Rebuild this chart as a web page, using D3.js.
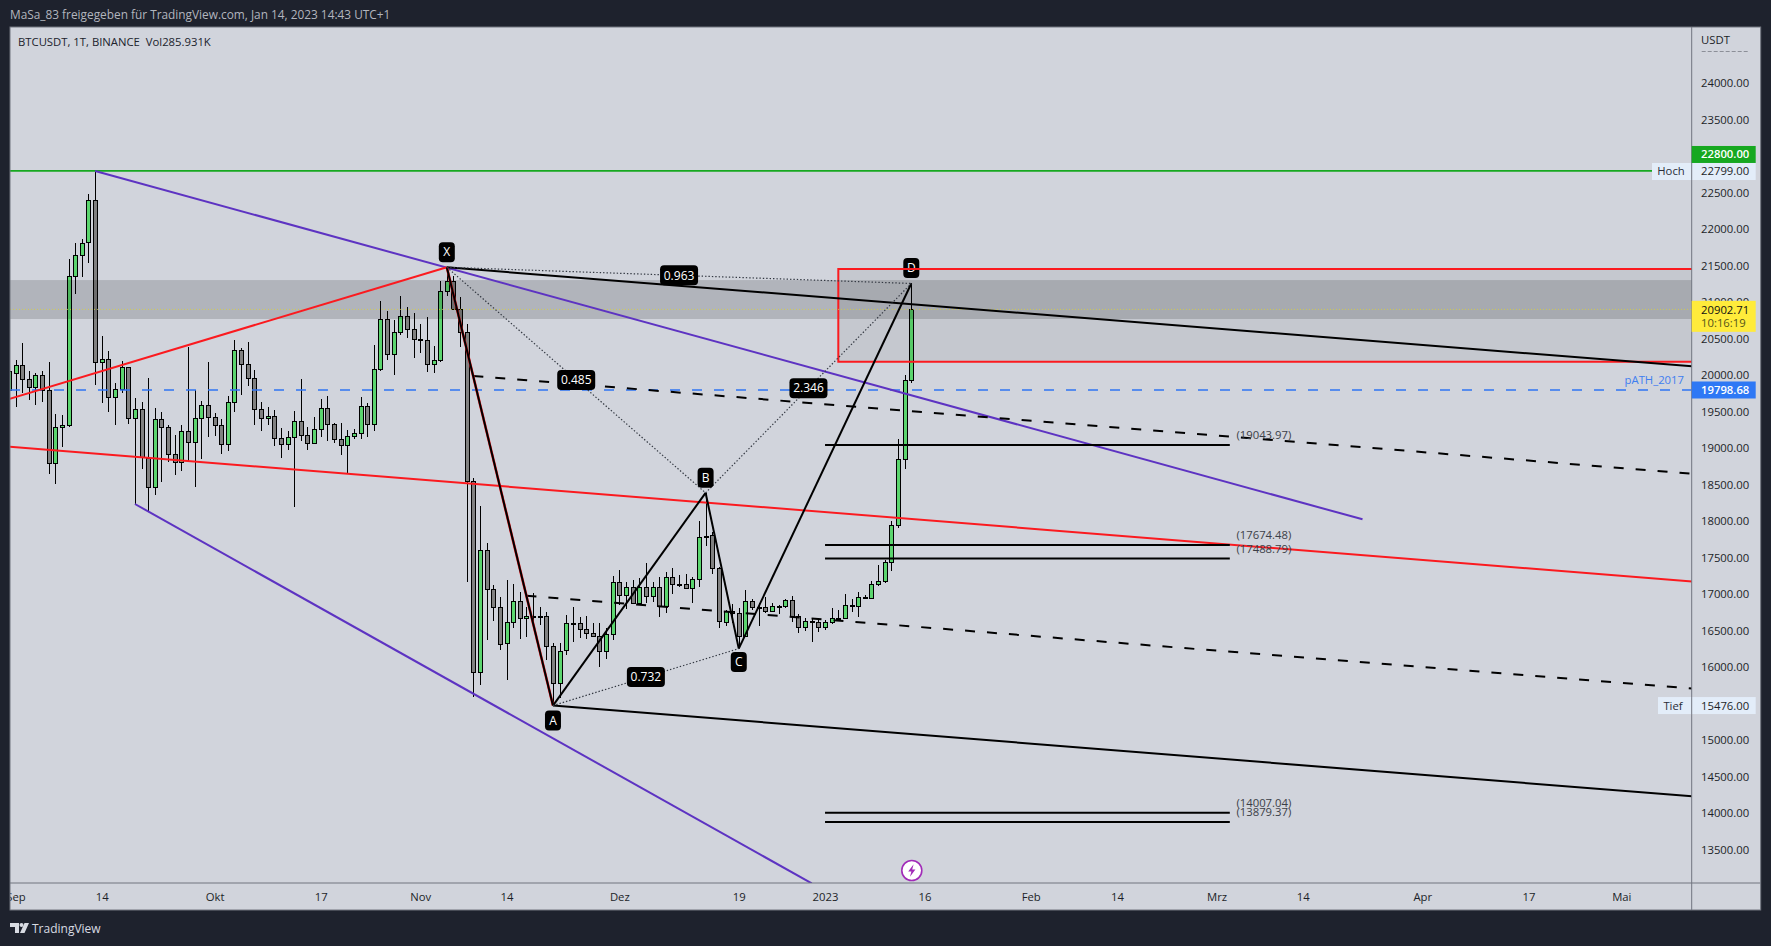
<!DOCTYPE html>
<html><head><meta charset="utf-8">
<script src="https://cdn.jsdelivr.net/npm/d3@7"></script>
<style>html,body{margin:0;padding:0;background:#1e222d;overflow:hidden}svg{display:block}
text{font-family:"Open Sans","Noto Sans",sans-serif}</style></head><body>
<svg id="c" width="1771" height="946"></svg>
<script>
// daily candles, 31 Aug 2022 .. 14 Jan 2023
const firstCandle = "2022-08-31";
const opens = [19798,20036,20136,19945,19835,19999,19794,18794,19287,19314,
21355,21643,21821,22397,20177,20219,19698,19808,20109,19410,
19534,18862,18465,19397,19287,18917,18808,19232,19082,19410,
19588,19424,19314,19054,19630,20342,20150,19958,19534,19410,
19438,19136,19054,19150,19369,19177,19068,19260,19547,19328,
19123,19040,19164,19205,19575,19328,20081,20766,20287,20588,
20807,20629,20492,20479,20150,20205,21150,21296,20903,20588,
18547,15931,17602,17068,16821,16337,16616,16903,16671,16698,
16698,16698,16287,15780,16232,16602,16602,16520,16465,16434,
16219,16452,17164,16986,17096,16886,17105,16977,17096,16840,
17233,17137,17137,17082,17205,17781,17808,17356,16626,16772,
16740,16434,16904,16822,16822,16776,16845,16836,16918,16703,
16548,16630,16616,16548,16616,16680,16680,16849,16836,16959,
16945,17137,17178,17438,17944,18849,19931];
const highs = [20118,20209,20442,20059,20027,20059,20182,19465,19456,21593,
21812,21867,22483,22799,20538,20333,19894,20196,20115,19689,
19634,19958,19552,19497,19314,19182,19319,20387,19798,19643,
20182,19479,19397,19712,20479,20369,20456,20072,19634,19566,
19520,19273,19237,19511,19949,19296,19424,19675,19716,19351,
19351,19250,19264,19698,19616,20415,21017,20880,20757,21086,
20931,20848,20702,20794,20401,21296,21480,21360,21068,20698,
18588,18209,17698,17127,16958,17196,17141,17036,16830,17013,
16821,16753,16328,16328,16716,16821,16693,16702,16602,16603,
16543,17251,17333,17173,17196,17219,17425,17164,17242,17306,
17356,17265,17274,17242,18004,18390,17858,17379,16785,16867,
16808,17059,16931,16877,16968,16877,16854,16931,16977,16731,
16671,16662,16671,16648,16808,16785,17000,16931,17027,16991,
17178,17402,17470,18004,19123,20004,21258];
const lows = [19707,19570,19753,19661,19593,19639,18648,18515,19022,19296,
21113,21351,21543,19867,19625,19502,19319,19762,19333,18237,
18716,18132,18360,18543,18817,18634,18693,18817,18474,18853,
19159,19173,18922,18963,19502,19730,19853,19319,19241,19319,
19036,18872,18977,18200,19095,18976,19068,19159,19104,19068,
18908,18666,19123,19123,19159,19237,20063,20209,20004,20547,
20515,20241,20301,20049,20031,20186,21090,20894,20392,17173,
15598,15757,16374,16639,16237,15826,16534,16387,16410,16557,
16579,16100,15476,15575,16168,16351,16397,16387,16410,16009,
16114,16374,16854,16799,16867,16867,16886,16899,16694,16749,
17004,17096,17078,16886,17096,17662,17278,16543,16571,16603,
16260,16420,16785,16571,16740,16762,16731,16813,16616,16475,
16502,16352,16488,16511,16594,16630,16671,16758,16694,16931,
16931,17114,17160,17324,17903,18721,19899];
const closes = [20054,20136,19945,19835,19999,19798,18794,19287,19314,21355,
21643,21817,22397,20177,20219,19698,19808,20109,19410,19534,
18885,18465,19397,19287,18917,18808,19232,19082,19410,19588,
19424,19314,19054,19630,20342,20150,19958,19534,19410,19438,
19136,19054,19150,19369,19177,19068,19260,19547,19328,19123,
19040,19164,19205,19575,19328,20081,20766,20287,20588,20807,
20629,20492,20483,20150,20205,21150,21296,20903,20588,18547,
15931,17602,17068,16821,16323,16616,16903,16671,16698,16694,
16694,16287,15780,16228,16602,16597,16520,16465,16433,16219,
16452,17164,16986,17096,16886,17105,16977,17096,16840,17233,
17137,17128,17082,17214,17781,17804,17356,16630,16772,16749,
16434,16904,16822,16817,16776,16840,16840,16918,16703,16548,
16630,16626,16548,16616,16671,16676,16849,16845,16959,16950,
17137,17178,17438,17944,18849,19931,20903];

const priceTicks = [24000,23500,22500,22000,21500,21000,20500,20000,19500,19000,18500,18000,17500,17000,16500,16000,15000,14500,14000,13500];
const timeTickDates = ["2022-09-01","2022-09-14","2022-10-01","2022-10-17","2022-11-01","2022-11-14","2022-12-01","2022-12-19","2023-01-01","2023-01-16","2023-02-01","2023-02-14","2023-03-01","2023-03-14","2023-04-01","2023-04-17","2023-05-01"];
const timeTickLabels = ["Sep","14","Okt","17","Nov","14","Dez","19","2023","16","Feb","14","Mrz","14","Apr","17","Mai"];

// drawings: [date, price]
const X=["2022-11-05",21480],A=["2022-11-21",15476],B=["2022-12-14",18390],C=["2022-12-19",16256],D=["2023-01-14",21258];
const chartEnd = "2023-05-12";
const purpleUpper=[["2022-09-13",22799],["2023-03-23",18027]];
const purpleLower=[["2022-09-19",18237],["2022-12-30",13040]];
const redUpper=[["2022-08-31",19675],X];
const redLong=[["2022-08-31",19022],[chartEnd,17172]];
const blackTop=[X,[chartEnd,20120]];
const blackBottom=[A,[chartEnd,14230]];
const dashedUpper=[["2022-11-09",19990],[chartEnd,18650]];
const dashedLower=[["2022-11-17",16981],[chartEnd,15707]];
const zoneBand=[21305,20771];
const redBox=[["2023-01-03",21456],[chartEnd,20186]];
const levels=[19043.97,17674.48,17488.79,14007.04,13879.37];
const levelSpan=["2023-01-01","2023-03-03"];
const levelLabelDate="2023-03-04";
const pointNames=["X","A","B","C","D"];
const ratios=[["0.963",X,D],["0.485",X,B],["0.732",A,C],["2.346",B,D]];
const high=22800, hochValue=22799, tiefValue=15476, last=20902.71, countdown="10:16:19", pathLevel=19798.68;

const L=10,R=1691.7,T=27,Bm=883;
const x=d3.scaleUtc().domain([new Date("2022-09-01"),new Date("2023-01-14")]).range([15.5,911.3]);
const y=d3.scaleLinear().domain([24000,14000]).range([83.3,813.3]);
const pt=p=>[x(new Date(p[0])),y(p[1])];
const svg=d3.select("#c");
svg.append("rect").attr("width",1771).attr("height",946).attr("fill","#1e222d");
svg.append("rect").attr("x",L).attr("y",T).attr("width",1760.7-L).attr("height",910-T).attr("fill","#d1d4dc");
const defs=svg.append("defs");
defs.append("clipPath").attr("id","pane").append("rect").attr("x",L).attr("y",T).attr("width",R-L).attr("height",Bm-T);
const pane=svg.append("g").attr("clip-path","url(#pane)");

// candles
const t0=new Date(firstCandle);
const candles=opens.map((o,i)=>({d:new Date(+t0+i*864e5),o,h:highs[i],l:lows[i],c:closes[i]}));
const cg=pane.append("g").attr("shape-rendering","crispEdges");
const cs=cg.selectAll("g").data(candles).join("g").attr("transform",d=>`translate(${Math.round(x(d.d))},0)`);
cs.append("line").attr("x1",.5).attr("x2",.5).attr("y1",d=>Math.round(y(d.h))).attr("y2",d=>Math.round(y(d.l))).attr("stroke","#000");
cs.append("rect").attr("x",-1.5).attr("width",4)
  .attr("y",d=>Math.round(y(Math.max(d.o,d.c)))+.5)
  .attr("height",d=>Math.max(1,Math.round(y(Math.min(d.o,d.c)))-Math.round(y(Math.max(d.o,d.c)))))
  .attr("fill",d=>d.c>=d.o?"#5bd56e":"#808080").attr("stroke","#000");

// zones
pane.append("rect").attr("x",L).attr("width",R-L).attr("y",y(zoneBand[0])).attr("height",y(zoneBand[1])-y(zoneBand[0])).attr("fill","rgba(0,0,0,0.15)");
const [bA,bB]=[pt(redBox[0]),pt(redBox[1])];
pane.append("rect").attr("x",bA[0]).attr("y",bA[1]).attr("width",bB[0]-bA[0]).attr("height",bB[1]-bA[1]).attr("fill","rgba(0,0,0,0.055)");
pane.append("path").attr("d",`M${bB[0]},${bA[1]}H${bA[0]}V${bB[1]}H${bB[0]}`).attr("fill","none").attr("stroke","#fb1a1f").attr("stroke-width",2);

// horizontal lines
const hline=(p,c,w,da)=>pane.append("line").attr("x1",L).attr("x2",R).attr("y1",y(p)).attr("y2",y(p)).attr("stroke",c).attr("stroke-width",w).attr("stroke-dasharray",da||null);
hline(high,"#16a820",1.6);
hline(last,"#d8d23a",.8,"1 2");
hline(pathLevel,"#2f74f2",1.4,"10 12");

const seg=(s,c,w,da)=>{const l=d3.line()(s.map(pt));return pane.append("path").attr("d",l).attr("fill","none").attr("stroke",c).attr("stroke-width",w).attr("stroke-dasharray",da||null);};
seg(purpleUpper,"#5d33c2",2);
seg(purpleLower,"#5d33c2",2);
seg(redUpper,"#fb1a1f",2);
seg(redLong,"#fb1a1f",2);
seg(blackTop,"#000",2);
seg(blackBottom,"#000",2);
seg(dashedUpper,"#000",2,"10 12");
seg(dashedLower,"#000",2,"10 12");
seg([X,A],"#fb1a1f",2.6);
seg([X,A],"#000",2);seg([A,B],"#000",2);seg([B,C],"#000",2);seg([C,D],"#000",2);
[[X,B],[B,D],[X,D],[A,C]].forEach(s=>seg(s,"#333842",1.2,"1.4 2"));

// fib levels
const lx1=x(new Date(levelSpan[0])),lx2=x(new Date(levelSpan[1])),ltx=x(new Date(levelLabelDate));
levels.forEach(v=>{
  pane.append("line").attr("x1",lx1).attr("x2",lx2).attr("y1",y(v)).attr("y2",y(v)).attr("stroke","#000").attr("stroke-width",2);
  pane.append("text").attr("x",ltx).attr("y",y(v)-10).attr("dy","0.35em").attr("font-size",11.3).attr("fill","#3c3f48").text(`(${v.toFixed(2)})`);
});

// pattern badges
const offs=[-15,15,-15,13.5,-15.5];
[X,A,B,C,D].forEach((p,i)=>{
  const [cx,cy]=pt(p);
  pane.append("rect").attr("x",cx-8).attr("y",cy+offs[i]-10).attr("width",16).attr("height",20).attr("rx",4).attr("fill","#000");
  pane.append("text").attr("x",cx).attr("y",cy+offs[i]).attr("dy","0.35em").attr("text-anchor","middle").attr("font-size",12).attr("font-weight",500).attr("fill","#fff").text(pointNames[i]);
});
// the box edge runs across D
pane.append("line").attr("x1",bA[0]).attr("x2",bB[0]).attr("y1",bA[1]).attr("y2",bA[1]).attr("stroke","#fb1a1f").attr("stroke-width",2);
ratios.forEach(r=>{
  const a=pt(r[1]),b=pt(r[2]),cx=(a[0]+b[0])/2,cy=(a[1]+b[1])/2;
  pane.append("rect").attr("x",cx-19).attr("y",cy-10).attr("width",38).attr("height",20).attr("rx",4).attr("fill","#000");
  pane.append("text").attr("x",cx).attr("y",cy).attr("dy","0.35em").attr("text-anchor","middle").attr("font-size",12).attr("font-weight",500).attr("fill","#fff").text(r[0]);
});

// lightning badge
const lx=x(new Date("2023-01-14")),ly=870.5;
pane.append("circle").attr("cx",lx+.5).attr("cy",ly).attr("r",10).attr("fill","#fff").attr("stroke","#a12bb8").attr("stroke-width",1.6);
pane.append("path").attr("transform",`translate(${lx+.5},${ly})`).attr("d","M1.8,-6.2L-3.6,1H-0.4L-1.8,6.2L3.6,-1H0.4Z").attr("fill","#a12bb8");

// axes
const ya=svg.append("g").attr("transform",`translate(${R},0)`).call(d3.axisRight(y).tickValues(priceTicks).tickSize(0).tickPadding(9.3).tickFormat(d=>d.toFixed(2)));
ya.select(".domain").remove();
ya.selectAll("text").attr("font-size",11.3).attr("fill","#1c1f28").style("font-family",'"Open Sans"');
const xa=svg.append("g").attr("transform",`translate(0,${Bm})`).call(d3.axisBottom(x).tickValues(timeTickDates.map(d=>new Date(d))).tickSize(0).tickPadding(9.5).tickFormat((d,i)=>timeTickLabels[i]));
xa.select(".domain").remove();
xa.selectAll("text").attr("font-size",11.3).attr("fill","#1c1f28").style("font-family",'"Open Sans"');

svg.append("line").attr("x1",R).attr("x2",R).attr("y1",T).attr("y2",910).attr("stroke","#70747f");
svg.append("line").attr("x1",L).attr("x2",R+69).attr("y1",Bm).attr("y2",Bm).attr("stroke","#70747f");

// price labels
const tag=(x0,x1,p,h,fill)=>svg.append("rect").attr("x",x0).attr("width",x1-x0).attr("y",y(p)-h/2).attr("height",h).attr("fill",fill);
const tagText=(p,s,c,w)=>svg.append("text").attr("x",R+9.3).attr("y",y(p)).attr("dy","0.35em").attr("font-size",11.3).attr("font-weight",w||400).attr("fill",c).text(s);
const highTagAt=high+225, hochTagAt=hochValue-7, yellowTagAt=last-95;
tag(R,1755.7,highTagAt,17,"#16a820");tagText(highTagAt,high.toFixed(2),"#fff",600);
tag(1652,1755.7,hochTagAt,17,"#e3edf9");
svg.append("line").attr("x1",R).attr("x2",R).attr("y1",y(hochTagAt)-8.5).attr("y2",y(hochTagAt)+8.5).attr("stroke","#70747f");
tagText(hochTagAt,hochValue.toFixed(2),"#1c1f28");
svg.append("text").attr("x",1671).attr("y",y(hochTagAt)).attr("dy","0.35em").attr("text-anchor","middle").attr("font-size",11.3).attr("fill","#2a2e39").text("Hoch");
tag(R,1755.7,yellowTagAt,31,"#ffeb3b");
tagText(last-8,last.toFixed(2),"#111");
tagText(last-190,countdown,"#55531a");
tag(R,1755.7,pathLevel,17,"#2e78f5");tagText(pathLevel,pathLevel.toFixed(2),"#fff",600);
svg.append("text").attr("x",1684).attr("y",380).attr("dy","0.35em").attr("text-anchor","end").attr("font-size",11.3).attr("fill","#3f7ef0").text("pATH_2017");
tag(1658,1755.7,tiefValue,17,"#e3edf9");
svg.append("line").attr("x1",R).attr("x2",R).attr("y1",y(tiefValue)-8.5).attr("y2",y(tiefValue)+8.5).attr("stroke","#70747f");
tagText(tiefValue,tiefValue.toFixed(2),"#1c1f28");
svg.append("text").attr("x",1673).attr("y",y(tiefValue)).attr("dy","0.35em").attr("text-anchor","middle").attr("font-size",11.3).attr("fill","#2a2e39").text("Tief");
svg.append("text").attr("x",R+9.3).attr("y",40.5).attr("dy","0.35em").attr("font-size",11.3).attr("fill","#1c1f28").text("USDT");
svg.append("line").attr("x1",R+10).attr("x2",R+57).attr("y1",51.5).attr("y2",51.5).attr("stroke","#8c8f98").attr("stroke-dasharray","4 2");

// frame
svg.append("rect").attr("x",0).attr("y",T).attr("width",L).attr("height",910-T).attr("fill","#1e222d");
svg.append("rect").attr("x",L).attr("y",T).attr("width",1760.7-L).attr("height",910-T).attr("fill","none").attr("stroke","#70747f");
svg.append("text").attr("x",10).attr("y",14.5).attr("dy","0.35em").attr("font-size",11.85).attr("fill","#b2b5be").text("MaSa_83 freigegeben für TradingView.com, Jan 14, 2023 14:43 UTC+1");
svg.append("text").attr("x",18).attr("y",42).attr("dy","0.35em").attr("font-size",11.3).attr("fill","#20232c").attr("xml:space","preserve").text("BTCUSDT, 1T, BINANCE  Vol285.931K");
// footer logo
svg.append("path").attr("d","M10,923H19V933H15V927H10ZM24.5,923H29L24.5,933H20Z").attr("fill","#d8dbe2");
svg.append("circle").attr("cx",21.5).attr("cy",925).attr("r",2).attr("fill","#d8dbe2");
svg.append("text").attr("x",32).attr("y",928.5).attr("dy","0.35em").attr("font-size",12).attr("font-weight",500).attr("fill","#d8dbe2").text("TradingView");
</script></body></html>
